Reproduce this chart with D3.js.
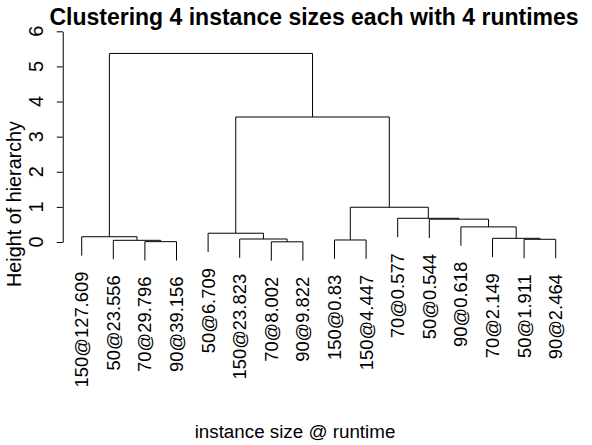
<!DOCTYPE html>
<html><head><meta charset="utf-8">
<script src="https://cdn.jsdelivr.net/npm/d3@7"></script>
<style>
body{margin:0;background:#fff}
svg{display:block}
text{font-family:"Liberation Sans", Arial, Helvetica, sans-serif;fill:#000}
</style>
</head><body>
<script>
// Leaves in plotting order
const leafLabels = ["150@127.609","50@23.556","70@29.796","90@39.156","50@6.709","150@23.823","70@8.002","90@9.822",
  "150@0.83","150@4.447","70@0.577","50@0.544","90@0.618","70@2.149","50@1.911","90@2.464"];
// R-style merge matrix: negative = leaf (1-based), positive = earlier merge (1-based)
const mergeLeft   = [-3, -7, -15, -2, -9, -6, -14, -1, -5, -13, -12, -11, 5, 9, 8];
const mergeRight  = [-4, -8, -16,  1, -10, 2,   3,  4,  6,   7,  10,  11, 12, 13, 14];
const mergeHeight = [0.01, 0.005, 0.077, 0.048, 0.057, 0.085, 0.105, 0.15, 0.25, 0.43, 0.65, 0.675, 0.99, 3.56, 5.37];
const yTicks = [0, 1, 2, 3, 4, 5, 6];
const titleText = "Clustering 4 instance sizes each with 4 runtimes";
const xTitle = "instance size @ runtime";
const yTitle = "Height of hierarchy";

const W = 592, H = 445;
const svg = d3.select("body").append("svg").attr("width", W).attr("height", H);

const n = leafLabels.length;
const x = d3.scaleLinear().domain([1, n]).range([81.7, 555.7]);
const y = d3.scaleLinear().domain([0, 6]).range([242, 31.3]);
const hang = 0.1 * d3.max(mergeHeight);

// compute node positions
const nodeX = [];
function cx(c){ return c < 0 ? -c : nodeX[c - 1]; }
mergeLeft.forEach((l, k) => { nodeX[k] = (cx(l) + cx(mergeRight[k])) / 2; });

const segs = [];
const leafBottom = new Array(n + 1);
mergeLeft.forEach((l, k) => {
  const h = mergeHeight[k];
  [l, mergeRight[k]].forEach(c => {
    let b;
    if (c < 0) { b = h - hang; leafBottom[-c] = b; }
    else b = mergeHeight[c - 1];
    segs.push({x1: cx(c), y1: h, x2: cx(c), y2: b});
  });
  segs.push({x1: cx(l), y1: h, x2: cx(mergeRight[k]), y2: h});
});

svg.append("g").selectAll("line").data(segs).join("line")
  .attr("x1", d => x(d.x1)).attr("x2", d => x(d.x2))
  .attr("y1", d => y(d.y1)).attr("y2", d => y(d.y2))
  .attr("stroke", "#000").attr("stroke-width", 1);

// leaf labels
svg.append("g").selectAll("text").data(leafLabels).join("text")
  .attr("transform", (d, i) => `translate(${x(i + 1)},${y(leafBottom[i + 1]) + 16}) rotate(-90)`)
  .attr("text-anchor", "end").attr("dy", "0.35em")
  .style("font-size", "18.4px").text(d => d);

// y axis
const axisX = x(0.4);
const yAxis = d3.axisLeft(y).tickValues(yTicks).tickFormat(d3.format("d")).tickSize(6).tickSizeOuter(0);
const ag = svg.append("g").attr("transform", `translate(${axisX},0)`).call(yAxis);
ag.selectAll("path,line").attr("stroke", "#000");
ag.selectAll("text").remove();
svg.append("g").selectAll("text").data(yTicks).join("text")
  .attr("transform", d => `translate(${axisX - 20},${y(d)}) rotate(-90)`)
  .attr("text-anchor", "middle")
  .style("font-size", "20px").text(d => d);

// titles
svg.append("text").attr("x", 314).attr("y", 25).attr("text-anchor", "middle")
  .style("font-size", "23px").style("font-weight", "bold").text(titleText);
svg.append("text").attr("x", 295).attr("y", 438).attr("text-anchor", "middle")
  .style("font-size", "18.8px").text(xTitle);
svg.append("text").attr("transform", "translate(20.5,204) rotate(-90)").attr("text-anchor", "middle")
  .style("font-size", "19.8px").text(yTitle);
</script>
</body></html>
